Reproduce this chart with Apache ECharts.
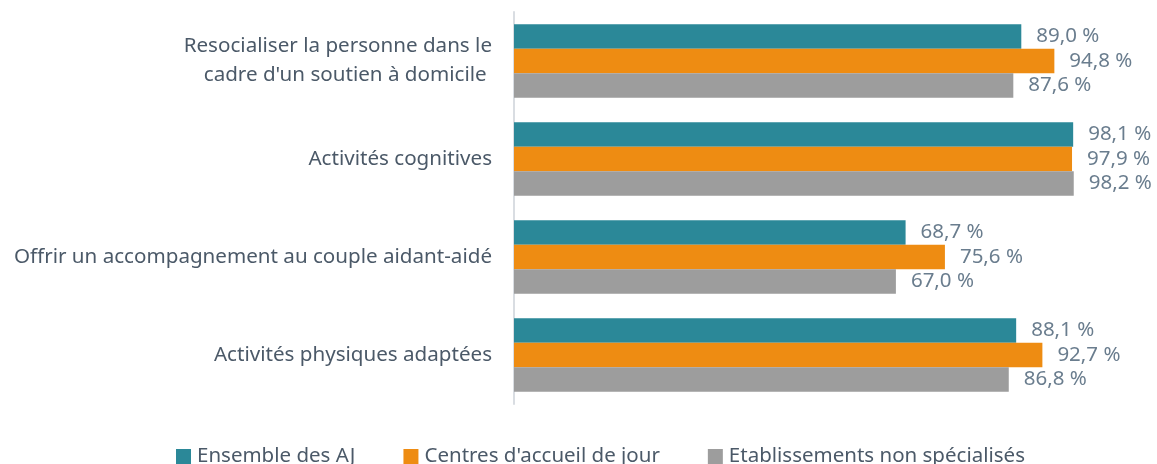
<!DOCTYPE html>
<html>
<head>
<meta charset="utf-8">
<script src="https://cdn.jsdelivr.net/npm/echarts@6/dist/echarts.min.js"></script>
<style>
html,body{margin:0;padding:0;background:#fff;}
#main{width:1157px;height:464px;}
</style>
</head>
<body>
<div id="main"></div>
<script>
const categories=["Resocialiser la personne dans le\ncadre d'un soutien à domicile ","Activités cognitives","Offrir un accompagnement au couple aidant-aidé","Activités physiques adaptées"];
const ensemble=[89.0,98.1,68.7,88.1];
const centres=[94.8,97.9,75.6,92.7];
const etablissements=[87.6,98.2,67.0,86.8];
const seriesNames=['Ensemble des AJ',"Centres d'accueil de jour",'Etablissements non spécialisés'];

const font='"Noto Sans", sans-serif';
let chart=echarts.init(document.getElementById('main'));

function makeSeries(name,data,color){
  return {
    name:name,
    type:'bar',
    data:data,
    barGap:'0%',
    barCategoryGap:'25%',
    itemStyle:{color:color},
    label:{
      show:true,
      position:'right',
      distance:15,
      color:'#6a7d8e',
      fontFamily:font,
      fontSize:20.5,
      formatter:function(p){
        return p.value.toFixed(1).replace('.',',')+' %';
      }
    }
  };
}

let option={
  animation:false,
  grid:{
    left:514,
    width:570,
    top:12,
    bottom:60
  },
  legend:{
    top:446,
    left:176,
    padding:0,
    itemWidth:15,
    itemHeight:15,
    itemGap:48,
    icon:'rect',
    textStyle:{
      fontFamily:font,
      fontSize:20.5,
      color:'#4b5968',
      padding:[0,0,0,1]
    },
    data:seriesNames
  },
  xAxis:{
    type:'value',
    min:0,
    max:100,
    show:false
  },
  yAxis:{
    type:'category',
    inverse:true,
    data:categories,
    axisLine:{show:true,lineStyle:{color:'#d9dde2',width:2}},
    axisTick:{show:false},
    axisLabel:{
      margin:22,
      color:'#4b5968',
      fontFamily:font,
      fontSize:20.6,
      lineHeight:29,
      align:'right'
    }
  },
  series:[
    makeSeries(seriesNames[0],ensemble,'#2b8898'),
    makeSeries(seriesNames[1],centres,'#ee8c12'),
    makeSeries(seriesNames[2],etablissements,'#9d9d9d')
  ]
};
chart.setOption(option);
</script>
</body>
</html>
